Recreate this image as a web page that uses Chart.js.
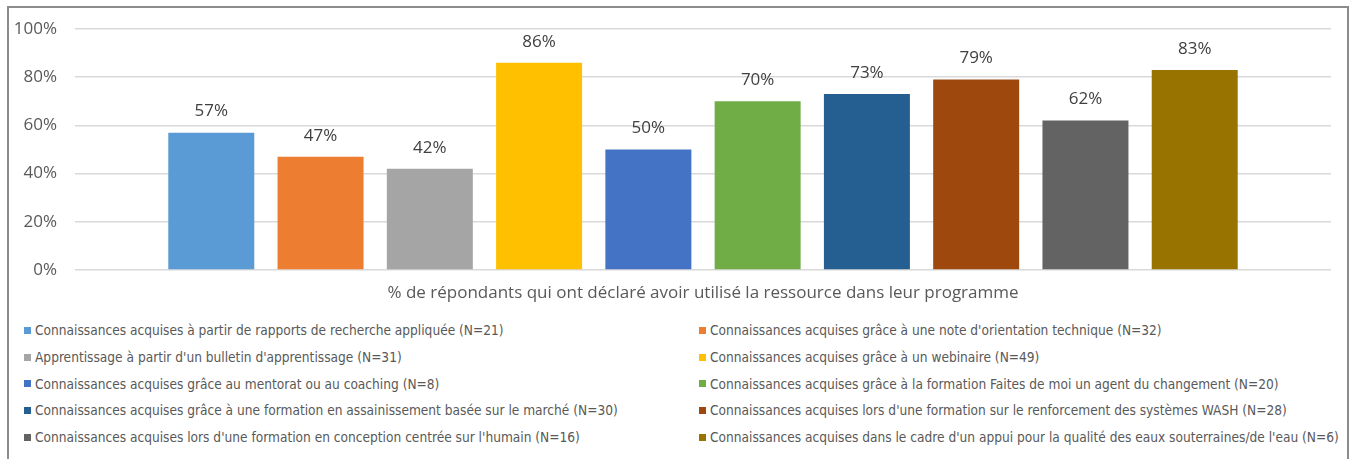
<!DOCTYPE html>
<html>
<head>
<meta charset="utf-8">
<script src="https://cdn.jsdelivr.net/npm/chart.js@4/dist/chart.umd.min.js"></script>
<style>
  body { margin: 0; background: #fff; width: 1350px; height: 459px; overflow: hidden; position: relative; }
  #frame { position: absolute; left: 7px; top: 6px; width: 1338px; height: 470px; border: 2px solid #8c8c8c; }
  #chart { position: absolute; left: 0; top: 0; }
  #legend { position: absolute; left: 24px; top: 317px; display: grid; grid-template-columns: 675px 640px; }
  .item { display: flex; align-items: center; height: 26.7px; font-family: 'DejaVu Sans Condensed', sans-serif; font-size: 13.6px; color: #595959; white-space: nowrap; }
  .box { width: 7px; height: 7px; margin-right: 4px; flex: none; }
</style>
</head>
<body>
<div id="frame"></div>
<canvas id="chart" width="1350" height="310"></canvas>
<div id="legend"></div>
<script>
const categories = ['% de répondants qui ont déclaré avoir utilisé la ressource dans leur programme'];
const seriesNames = [
    'Connaissances acquises à partir de rapports de recherche appliquée (N=21)',
    "Connaissances acquises grâce à une note d'orientation technique (N=32)",
    "Apprentissage à partir d'un bulletin d'apprentissage (N=31)",
    'Connaissances acquises grâce à un webinaire (N=49)',
    'Connaissances acquises grâce au mentorat ou au coaching (N=8)',
    'Connaissances acquises grâce à la formation Faites de moi un agent du changement (N=20)',
    'Connaissances acquises grâce à une formation en assainissement basée sur le marché (N=30)',
    "Connaissances acquises lors d'une formation sur le renforcement des systèmes WASH (N=28)",
    "Connaissances acquises lors d'une formation en conception centrée sur l'humain (N=16)",
    "Connaissances acquises dans le cadre d'un appui pour la qualité des eaux souterraines/de l'eau (N=6)"
];
const seriesValues = [57, 47, 42, 86, 50, 70, 73, 79, 62, 83];
const seriesColors = ['#5B9BD5', '#ED7D31', '#A5A5A5', '#FFC000', '#4472C4', '#70AD47', '#255E91', '#9E480E', '#636363', '#997300'];
const yTicks = [0, 20, 40, 60, 80, 100];

const datasets = seriesNames.map((name, i) => ({
    label: name,
    data: [seriesValues[i]],
    backgroundColor: seriesColors[i],
    categoryPercentage: 0.87,
    barPercentage: 0.787
}));

// value labels above each bar
const valueLabels = {
    id: 'valueLabels',
    afterDatasetsDraw(chart) {
        const ctx = chart.ctx;
        ctx.save();
        ctx.font = '17px "Open Sans"';
        ctx.fillStyle = '#404040';
        ctx.textAlign = 'center';
        ctx.textBaseline = 'middle';
        chart.data.datasets.forEach((ds, i) => {
            chart.getDatasetMeta(i).data.forEach((bar, j) => {
                ctx.fillText(ds.data[j] + '%', bar.x, bar.y - 21);
            });
        });
        ctx.restore();
    }
};

new Chart(document.getElementById('chart').getContext('2d'), {
    type: 'bar',
    data: { labels: categories, datasets: datasets },
    options: {
        responsive: false,
        animation: false,
        layout: { padding: { top: 29, right: 19, left: 0, bottom: 0 } },
        plugins: { legend: { display: false }, tooltip: { enabled: false } },
        scales: {
            y: {
                min: 0,
                max: 100,
                afterBuildTicks: s => { s.ticks = yTicks.map(v => ({ value: v })); },
                afterFit: s => { s.width = 75; },
                ticks: {
                    callback: v => v + '%',
                    color: '#595959',
                    font: { family: 'Open Sans', size: 17 },
                    padding: 18
                },
                grid: { color: '#d9d9d9', lineWidth: 1.5, drawTicks: false },
                border: { display: false }
            },
            x: {
                afterFit: s => { s.height = 40; },
                ticks: {
                    color: '#595959',
                    font: { family: 'Open Sans', size: 17 },
                    padding: 13
                },
                grid: { display: false, drawTicks: false },
                border: { display: false }
            }
        }
    },
    plugins: [valueLabels]
});

const legend = document.getElementById('legend');
seriesNames.forEach((name, i) => {
    const item = document.createElement('div');
    item.className = 'item';
    const box = document.createElement('span');
    box.className = 'box';
    box.style.background = seriesColors[i];
    item.appendChild(box);
    item.appendChild(document.createTextNode(name));
    legend.appendChild(item);
});
</script>
</body>
</html>
